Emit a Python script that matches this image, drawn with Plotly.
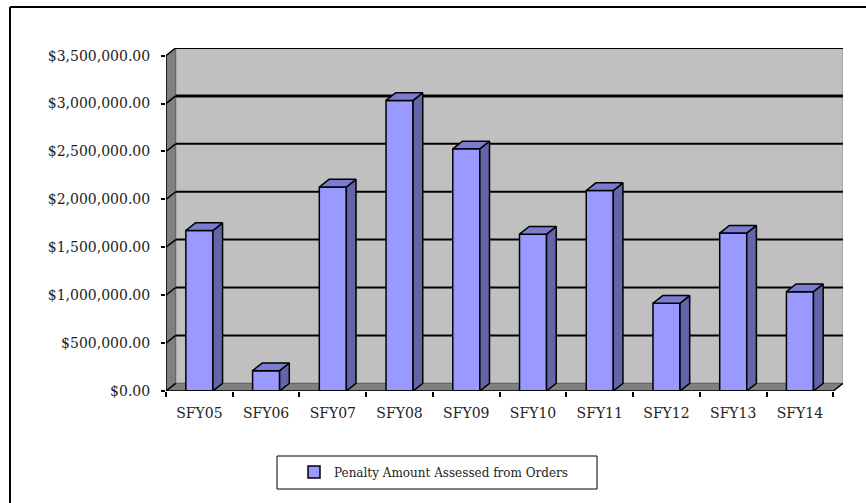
import plotly.graph_objects as go

# ---- data ----
categories = ["SFY05", "SFY06", "SFY07", "SFY08", "SFY09",
              "SFY10", "SFY11", "SFY12", "SFY13", "SFY14"]
penalty = [1675000, 212000, 2129000, 3033000, 2528000,
           1637000, 2093000, 916000, 1648000, 1037000]
series_name = "Penalty Amount Assessed from Orders"
y_ticks = [0, 500000, 1000000, 1500000, 2000000, 2500000, 3000000, 3500000]
y_tick_text = ["$0.00", "$500,000.00", "$1,000,000.00", "$1,500,000.00",
               "$2,000,000.00", "$2,500,000.00", "$3,000,000.00", "$3,500,000.00"]

# ---- style / geometry ----
W, H = 866, 503
ML, MR, MT, MB = 166, 23, 48, 112
DX = 0.145          # depth offset in category units
DY = 80000          # depth offset in value units
BW = 0.405          # bar width
YMAX = 3500000
FRONT = "#9999FF"
SIDE = "#6464A8"
TOP = "#7B7BD0"
WALL = "#C0C0C0"
SIDEWALL = "#808080"
FONT = "DejaVu Serif"

n = len(categories)
xs = list(range(n))
x0, x1 = -0.5, n - 0.5

fig = go.Figure()

# front faces
fig.add_trace(go.Bar(
    x=xs, y=penalty, width=BW, name=series_name,
    marker=dict(color=FRONT, line=dict(color="black", width=1.5)),
    hoverinfo="skip", showlegend=True,
))

# side and top faces
for i, v in zip(xs, penalty):
    r = i + BW / 2
    l = i - BW / 2
    fig.add_trace(go.Scatter(
        x=[r, r + DX, r + DX, r, r], y=[0, DY, v + DY, v, 0],
        fill="toself", fillcolor=SIDE, mode="lines",
        line=dict(color="black", width=1.5), showlegend=False, hoverinfo="skip"))
    fig.add_trace(go.Scatter(
        x=[l, r, r + DX, l + DX, l], y=[v, v, v + DY, v + DY, v],
        fill="toself", fillcolor=TOP, mode="lines",
        line=dict(color="black", width=1.5), showlegend=False, hoverinfo="skip"))

# invisible trace for boundary tick axis
fig.add_trace(go.Scatter(x=[x0, x1], y=[0, 0], xaxis="x2", mode="markers",
                         marker=dict(opacity=0), showlegend=False, hoverinfo="skip"))

shapes = []
# back wall
shapes.append(dict(type="rect", xref="x", yref="y", x0=x0 + DX, x1=x1 + DX,
                   y0=DY, y1=YMAX + DY, fillcolor=WALL,
                   line=dict(color="#909090", width=1), layer="below"))
# left side wall
shapes.append(dict(type="path", xref="x", yref="y",
                   path=f"M{x0},0 L{x0},{YMAX} L{x0 + DX},{YMAX + DY} L{x0 + DX},{DY} Z",
                   fillcolor=SIDEWALL, line=dict(color="#606060", width=1), layer="below"))
# floor
shapes.append(dict(type="path", xref="x", yref="y",
                   path=f"M{x0},0 L{x1},0 L{x1 + DX},{DY} L{x0 + DX},{DY} Z",
                   fillcolor=SIDEWALL, line=dict(color="#606060", width=1), layer="below"))
# gridlines on back wall and side wall
for t in y_ticks:
    w = 3 if t == 3000000 else 2
    if t > 0:
        shapes.append(dict(type="line", xref="x", yref="y", x0=x0 + DX, x1=x1 + DX,
                           y0=t + DY, y1=t + DY, line=dict(color="black", width=w),
                           layer="below"))
    shapes.append(dict(type="line", xref="x", yref="y", x0=x0, x1=x0 + DX,
                       y0=t, y1=t + DY, line=dict(color="black", width=1.5),
                       layer="below"))
# floor front edge & right edge
shapes.append(dict(type="line", xref="x", yref="y", x0=x0, x1=x1, y0=0, y1=0,
                   line=dict(color="black", width=1.5)))
shapes.append(dict(type="line", xref="x", yref="y", x0=x1, x1=x1 + DX, y0=0, y1=DY,
                   line=dict(color="black", width=1.5)))
# y axis line
shapes.append(dict(type="line", xref="x", yref="y", x0=x0, x1=x0, y0=0, y1=YMAX,
                   line=dict(color="black", width=1.5)))

# outer chart frame (left & top)
px2x = lambda p: (p - ML) / (W - ML - MR)
py2y = lambda p: (H - MB - p) / (H - MT - MB)
shapes.append(dict(type="line", xref="paper", yref="paper",
                   x0=px2x(10), x1=px2x(10), y0=py2y(7), y1=py2y(505),
                   line=dict(color="black", width=2)))
shapes.append(dict(type="line", xref="paper", yref="paper",
                   x0=px2x(10), x1=px2x(866), y0=py2y(7), y1=py2y(7),
                   line=dict(color="black", width=2)))
# legend box
shapes.append(dict(type="rect", xref="paper", yref="paper",
                   x0=px2x(277), x1=px2x(597), y0=py2y(456), y1=py2y(489),
                   line=dict(color="black", width=1), fillcolor="rgba(0,0,0,0)"))

fig.update_layout(
    width=W, height=H,
    margin=dict(l=ML, r=MR, t=MT, b=MB),
    paper_bgcolor="white", plot_bgcolor="white",
    font=dict(family=FONT, size=14, color="#222"),
    shapes=shapes,
    showlegend=True,
    legend=dict(orientation="h", x=px2x(294), xanchor="left",
                y=py2y(472), yanchor="middle", bgcolor="rgba(0,0,0,0)",
                font=dict(family=FONT, size=12, color="#222")),
    xaxis=dict(range=[x0, x1 + DX], tickvals=xs, ticktext=categories,
               showgrid=False, zeroline=False, showline=False, ticks="",
               ticklabelstandoff=12, fixedrange=True),
    xaxis2=dict(range=[x0, x1 + DX], overlaying="x", anchor="y", side="bottom",
                tickvals=[i - 0.5 for i in range(n + 1)], showticklabels=False,
                ticks="outside", ticklen=5, tickcolor="black", tickwidth=1.5,
                showgrid=False, zeroline=False, showline=False),
    yaxis=dict(range=[0, YMAX + DY], tickvals=y_ticks, ticktext=y_tick_text,
               showgrid=False, zeroline=False, showline=False,
               ticks="outside", ticklen=4, tickcolor="black", tickwidth=1.5,
               ticklabelstandoff=8, fixedrange=True),
)

fig.write_html("out.html")
